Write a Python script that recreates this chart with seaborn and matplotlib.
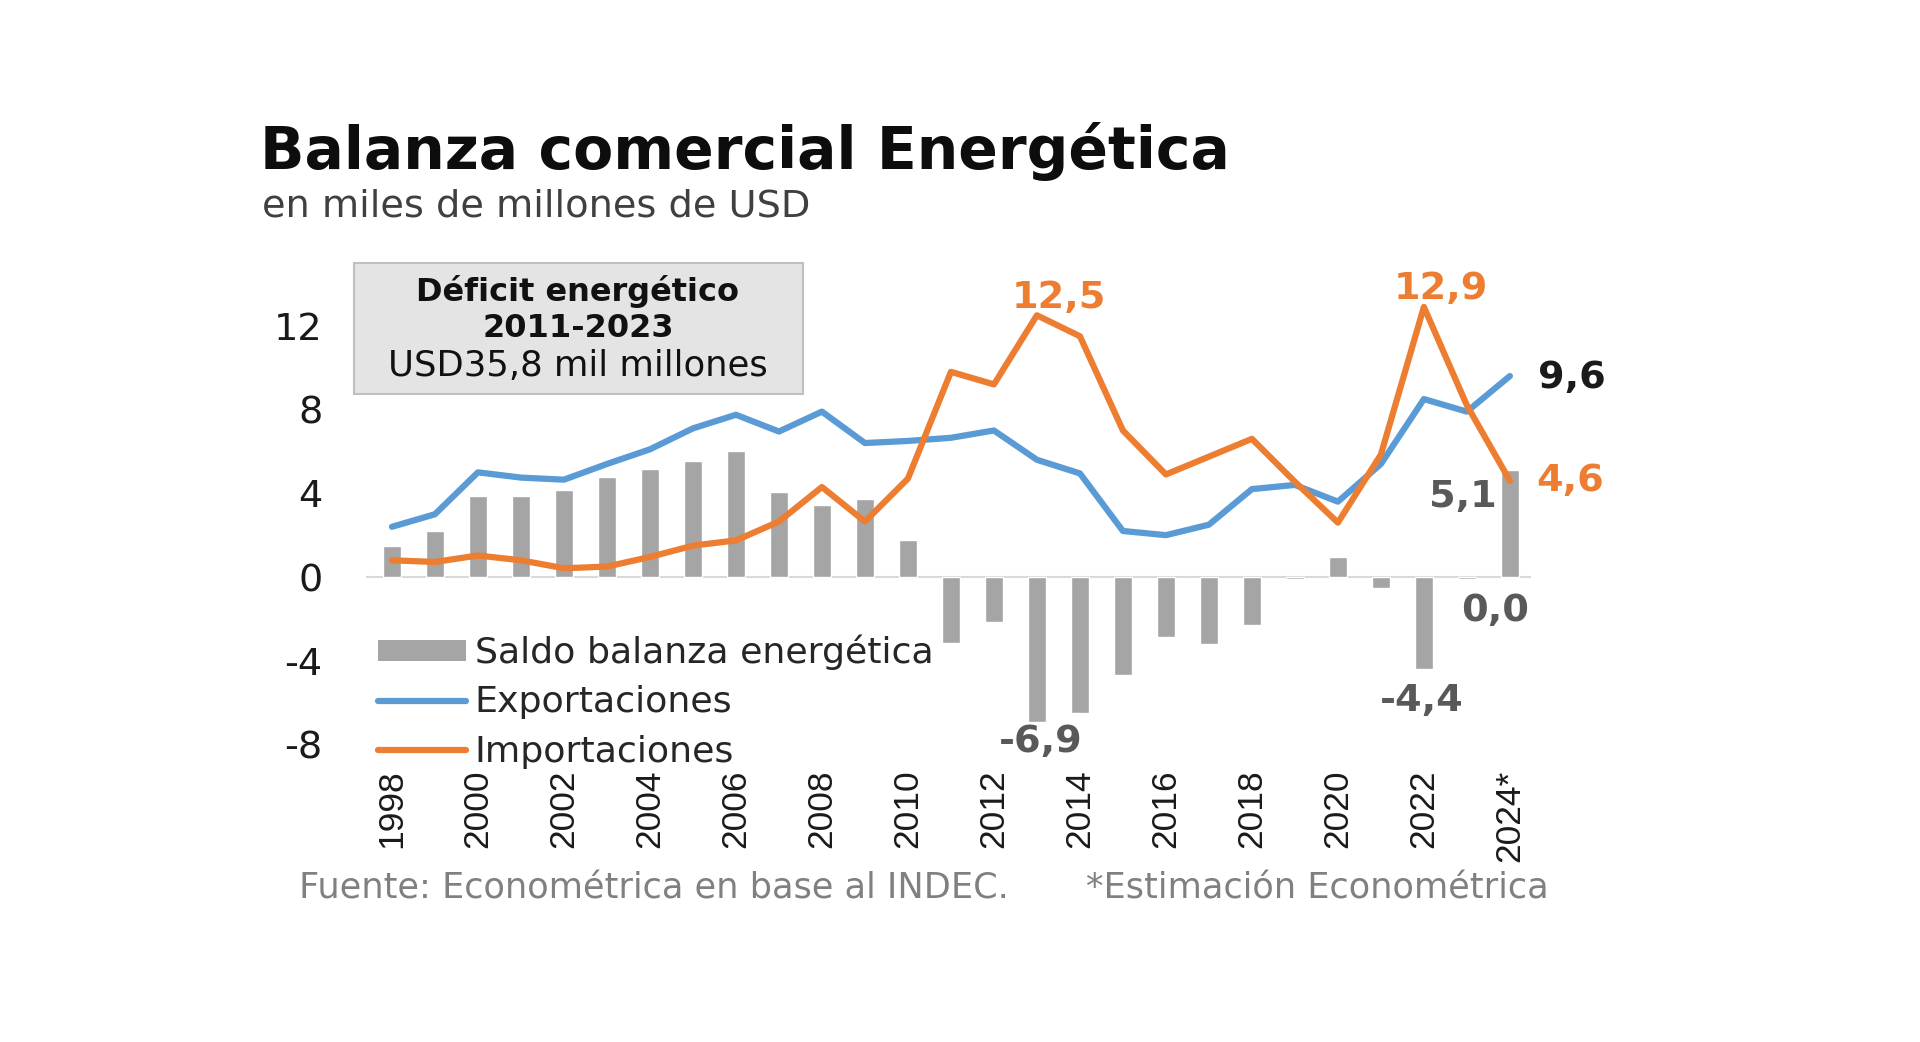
import numpy as np
import pandas as pd
import matplotlib
matplotlib.use("Agg")
import matplotlib.pyplot as plt
import seaborn as sns
from matplotlib.patches import Patch, Rectangle
from matplotlib.lines import Line2D

# ----------- data (miles de millones de USD) -----------
years = ['1998', '1999', '2000', '2001', '2002', '2003', '2004', '2005', '2006',
         '2007', '2008', '2009', '2010', '2011', '2012', '2013', '2014', '2015',
         '2016', '2017', '2018', '2019', '2020', '2021', '2022', '2023', '2024*']
exports = [2.4, 3.0, 5.0, 4.75, 4.65, 5.4, 6.1, 7.1, 7.75, 6.95, 7.9, 6.4, 6.5,
           6.65, 7.0, 5.6, 4.95, 2.2, 2.0, 2.5, 4.2, 4.4, 3.6, 5.4, 8.5, 7.9, 9.6]
imports = [0.8, 0.72, 1.03, 0.8, 0.42, 0.5, 0.96, 1.5, 1.75, 2.65, 4.3, 2.65, 4.7,
           9.8, 9.2, 12.5, 11.5, 7.0, 4.9, 5.75, 6.6, 4.55, 2.6, 5.85, 12.9, 8.2, 4.6]
balance = [1.5, 2.2, 3.85, 3.85, 4.15, 4.8, 5.15, 5.55, 6.0, 4.05, 3.45, 3.75, 1.75,
           -3.15, -2.15, -6.9, -6.5, -4.7, -2.85, -3.2, -2.3, -0.1, 0.95, -0.5,
           -4.4, -0.1, 5.1]

BLUE = '#5B9BD5'
ORANGE = '#ED7D31'
GRAY = '#A5A5A5'

df = pd.DataFrame({'year': years, 'pos': np.arange(len(years)),
                   'exp': exports, 'imp': imports, 'bal': balance})

sns.set_theme(style='white')
plt.rcParams['font.family'] = ['DejaVu Sans']

fig = plt.figure(figsize=(19.2, 10.42), dpi=100)

# annotation box (drawn first, behind the transparent axes)
fig.add_artist(Rectangle((0.1844, 0.6219), 0.2339, 0.1257, transform=fig.transFigure,
                         facecolor='#E4E4E4', edgecolor='#BFBFBF', lw=1.5))

ax = fig.add_axes([0.1907, 0.2774, 0.6069, 0.4602])
ax.set_facecolor('none')

sns.barplot(data=df, x='pos', y='bal', native_scale=True, width=0.42,
            color=GRAY, saturation=1, ax=ax, zorder=2)
sns.lineplot(data=df, x='pos', y='exp', color=BLUE, lw=4.5, ax=ax, zorder=3)
sns.lineplot(data=df, x='pos', y='imp', color=ORANGE, lw=4.5, ax=ax, zorder=4)

ax.axhline(0, color='#D9D9D9', lw=1.5, zorder=1)
ax.set_xlim(-0.6, 26.5)
ax.set_ylim(-8.4, 14.5)
sns.despine(ax=ax, left=True, bottom=True)
ax.set_xlabel('')
ax.set_ylabel('')

ax.set_yticks([-8, -4, 0, 4, 8, 12])
ax.set_yticklabels(['-8', '-4', '0', '4', '8', '12'], fontsize=27.5, color='#1a1a1a')
ax.set_xticks(df['pos'][::2])
ax.set_xticklabels(df['year'][::2], rotation=90, fontsize=25.5,
                   family=['Liberation Sans', 'DejaVu Sans'],
                   color='#1a1a1a', va='top', ha='center')
ax.tick_params(axis='y', length=0, pad=31.5)
ax.tick_params(axis='x', length=0, pad=12)

# value labels
lab = dict(fontsize=27.5, fontweight='bold', ha='center', va='center')
ax.text(15.5, 13.35, '12,5', color=ORANGE, **lab)
ax.text(24.4, 13.75, '12,9', color=ORANGE, **lab)
ax.text(27.45, 9.5, '9,6', color='#1a1a1a', **lab)
ax.text(27.4, 4.6, '4,6', color=ORANGE, **lab)
ax.text(24.9, 3.8, '5,1', color='#595959', **lab)
ax.text(25.65, -1.6, '0,0', color='#595959', **lab)
ax.text(23.95, -5.9, '-4,4', color='#595959', **lab)
ax.text(15.1, -7.9, '-6,9', color='#595959', **lab)

# legend
handles = [Patch(facecolor=GRAY, edgecolor='none'),
           Line2D([0], [0], color=BLUE, lw=4.5),
           Line2D([0], [0], color=ORANGE, lw=4.5)]
labels = ['Saldo balanza energética', 'Exportaciones', 'Importaciones']
fig.legend(handles, labels, loc='upper left', bbox_to_anchor=(0.197, 0.391),
           frameon=False, fontsize=26.2, handlelength=2.4, handleheight=0.5,
           handletextpad=0.25, labelspacing=0.42, borderpad=0, borderaxespad=0,
           labelcolor='#262626')

fig.text(0.301, 0.7207, 'Déficit energético', fontsize=23, fontweight='bold',
         ha='center', va='center', color='#111111')
fig.text(0.301, 0.6843, '2011-2023', fontsize=23, fontweight='bold',
         ha='center', va='center', color='#111111')
fig.text(0.301, 0.6488, 'USD35,8 mil millones', fontsize=25.5,
         ha='center', va='center', color='#111111')

# titles
fig.text(0.1355, 0.855, 'Balanza comercial Energética', fontsize=42,
         fontweight='bold', ha='left', va='center', color='#0d0d0d')
fig.text(0.1365, 0.802, 'en miles de millones de USD', fontsize=27.5,
         ha='left', va='center', color='#404040')

# footer
fig.text(0.1557, 0.147, 'Fuente: Econométrica en base al INDEC.', fontsize=25.3,
         ha='left', va='center', color='#808080')
fig.text(0.5656, 0.147, '*Estimación Econométrica', fontsize=25.3,
         ha='left', va='center', color='#808080')

fig.savefig('out.png', dpi=100, facecolor='white')
